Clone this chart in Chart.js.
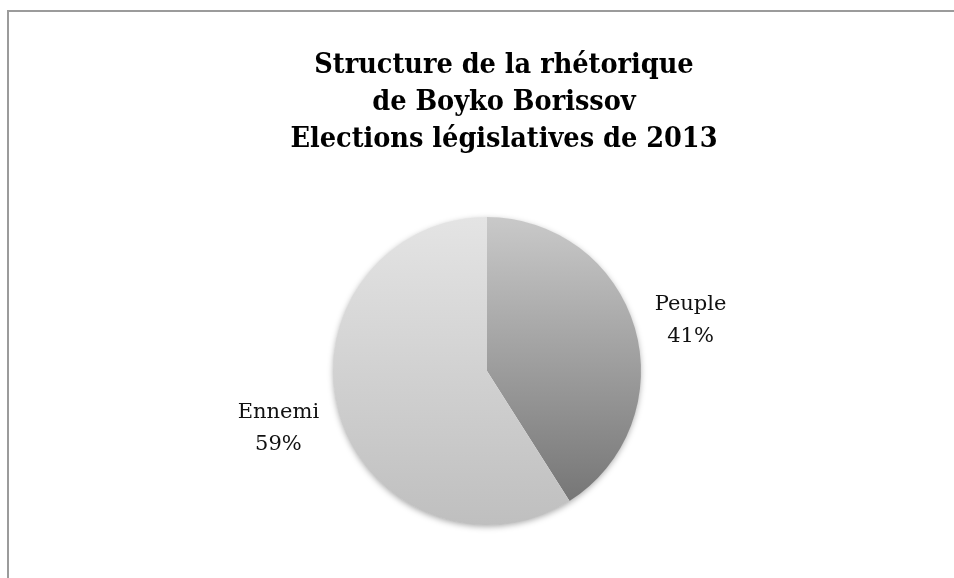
<!DOCTYPE html>
<html lang="fr">
<head>
<meta charset="utf-8">
<script src="https://cdn.jsdelivr.net/npm/chart.js@4/dist/chart.umd.min.js"></script>
<style>
  html, body { margin: 0; padding: 0; background: #fff; }
  #wrap { position: relative; width: 954px; height: 578px; overflow: hidden; }
  #frame {
    position: absolute; left: 7px; top: 10px; width: 1000px; height: 700px;
    border-top: 2px solid #9b9b9b; border-left: 2px solid #9b9b9b;
    pointer-events: none;
  }
  canvas { position: absolute; left: 0; top: 0; }
</style>
</head>
<body>
<div id="wrap">
  <canvas id="rhetoriqueChart" width="954" height="578"></canvas>
  <div id="frame"></div>
</div>
<script>
// Données
const categories = ['Peuple', 'Ennemi'];
const parts = [41, 59];
const titleLines = ['Structure de la rhétorique', 'de Boyko Borissov', 'Elections législatives de 2013'];

// Dégradés gris verticaux (haut -> bas) pour chaque part
const gradientStops = [
    ['#c9c9c9', '#6f6f6f'],
    ['#e4e4e4', '#bfbfbf']
];

function sliceGradient(context) {
    const chart = context.chart;
    const area = chart.chartArea;
    if (!area) return '#ccc';
    const stops = gradientStops[context.dataIndex];
    const g = chart.ctx.createLinearGradient(0, area.top, 0, area.bottom);
    g.addColorStop(0, stops[0]);
    g.addColorStop(1, stops[1]);
    return g;
}

// Ombre douce sous le camembert
const pieShadow = {
    id: 'pieShadow',
    beforeDatasetsDraw(chart) {
        const arc = chart.getDatasetMeta(0).data[0];
        if (!arc) return;
        const ctx = chart.ctx;
        ctx.save();
        ctx.shadowColor = 'rgba(0,0,0,0.35)';
        ctx.shadowBlur = 6;
        ctx.shadowOffsetY = 2;
        ctx.fillStyle = '#ffffff';
        ctx.beginPath();
        ctx.arc(arc.x, arc.y, arc.outerRadius - 0.5, 0, Math.PI * 2);
        ctx.fill();
        ctx.restore();
    }
};

// Étiquettes "Nom / xx%" à l'extérieur des parts
const outsideLabels = {
    id: 'outsideLabels',
    afterDatasetsDraw(chart, args, opts) {
        const ctx = chart.ctx;
        const values = chart.data.datasets[0].data;
        const total = values.reduce((a, b) => a + b, 0);
        chart.getDatasetMeta(0).data.forEach((arc, i) => {
            const mid = (arc.startAngle + arc.endAngle) / 2;
            const d = arc.outerRadius + opts.distance;
            const nudge = opts.nudge[i] || [0, 0];
            const x = arc.x + Math.cos(mid) * d + nudge[0];
            const y = arc.y + Math.sin(mid) * d + nudge[1];
            const pct = Math.round(values[i] / total * 100) + '%';
            ctx.save();
            ctx.font = opts.font;
            ctx.fillStyle = opts.color;
            ctx.textAlign = 'center';
            ctx.textBaseline = 'middle';
            ctx.fillText(chart.data.labels[i], x, y - opts.lineHeight / 2);
            ctx.fillText(pct, x, y + opts.lineHeight / 2);
            ctx.restore();
        });
    }
};

// Décale le titre vers la droite
const titleShift = {
    id: 'titleShift',
    afterLayout(chart, args, opts) {
        if (chart.titleBlock) {
            chart.titleBlock.left += opts.dx;
            chart.titleBlock.right += opts.dx;
        }
    }
};

const ctx = document.getElementById('rhetoriqueChart').getContext('2d');

new Chart(ctx, {
    type: 'pie',
    data: {
        labels: categories,
        datasets: [{
            data: parts,
            backgroundColor: sliceGradient,
            borderWidth: 0
        }]
    },
    options: {
        responsive: false,
        animation: false,
        layout: {
            padding: { top: 0, left: 20, right: 0, bottom: 53 }
        },
        plugins: {
            legend: { display: false },
            tooltip: { enabled: false },
            title: {
                display: true,
                text: titleLines,
                color: '#000',
                font: {
                    family: "'DejaVu Serif Condensed', 'DejaVu Serif', serif",
                    weight: 'bold',
                    size: 28.5,
                    lineHeight: '37px'
                },
                padding: { top: 47, bottom: 59 }
            },
            titleShift: { dx: 17 },
            outsideLabels: {
                distance: 58,
                lineHeight: 32,
                nudge: [[0, 9], [-5, -2]],
                font: "21px 'DejaVu Serif', serif",
                color: '#111'
            }
        }
    },
    plugins: [pieShadow, outsideLabels, titleShift]
});
</script>
</body>
</html>
